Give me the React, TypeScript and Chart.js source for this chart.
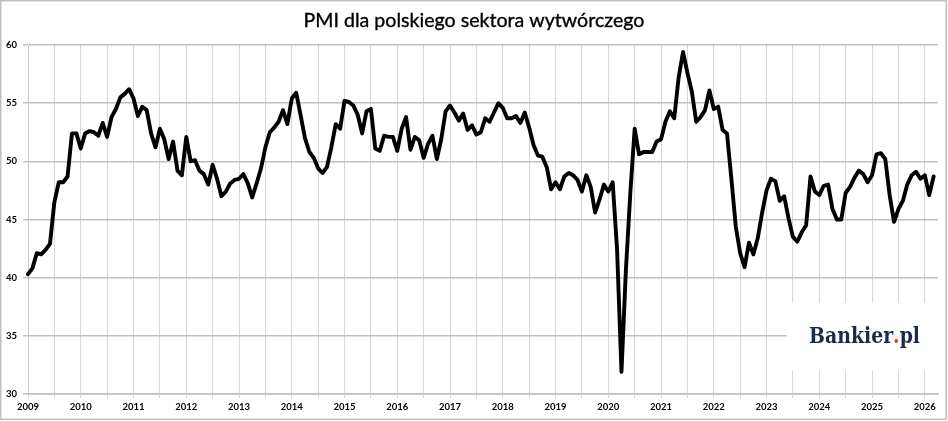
import React, { useEffect, useRef } from 'react';
import { Chart, registerables } from 'chart.js';

Chart.register(...registerables);

const chartTitle = 'PMI dla polskiego sektora wytwórczego';
const logoMain = 'Bankier';
const logoDot = '.';
const logoTail = 'pl';

const yearLabels = [
  '2009', '2010', '2011', '2012', '2013', '2014', '2015', '2016', '2017',
  '2018', '2019', '2020', '2021', '2022', '2023', '2024', '2025', '2026',
];

const yTicks = [30, 35, 40, 45, 50, 55, 60];

const pmi2009 = [40.3, 40.8, 42.1, 42.0, 42.4, 42.9, 46.5, 48.2, 48.2, 48.7, 52.4, 52.4];
const pmi2010 = [51.1, 52.4, 52.6, 52.5, 52.2, 53.3, 52.1, 53.8, 54.5, 55.5, 55.8, 56.2];
const pmi2011 = [55.4, 53.9, 54.7, 54.4, 52.4, 51.2, 52.8, 51.9, 50.2, 51.7, 49.2, 48.8];
const pmi2012 = [52.1, 50.0, 50.1, 49.2, 48.9, 48.0, 49.7, 48.5, 47.0, 47.4, 48.1, 48.4];
const pmi2013 = [48.5, 48.9, 48.1, 46.9, 48.1, 49.4, 51.2, 52.5, 52.9, 53.4, 54.4, 53.2];
const pmi2014 = [55.4, 55.9, 54.0, 52.0, 50.8, 50.3, 49.4, 49.0, 49.5, 51.2, 53.2, 52.8];
const pmi2015 = [55.2, 55.1, 54.8, 54.0, 52.4, 54.3, 54.5, 51.1, 50.9, 52.2, 52.1, 52.1];
const pmi2016 = [50.9, 52.8, 53.8, 51.0, 52.1, 51.8, 50.3, 51.5, 52.2, 50.2, 51.9, 54.3];
const pmi2017 = [54.8, 54.2, 53.5, 54.1, 52.7, 53.1, 52.3, 52.5, 53.7, 53.4, 54.2, 55.0];
const pmi2018 = [54.6, 53.7, 53.7, 53.9, 53.3, 54.2, 52.9, 51.4, 50.5, 50.4, 49.5, 47.6];
const pmi2019 = [48.2, 47.6, 48.7, 49.0, 48.8, 48.4, 47.4, 48.8, 47.8, 45.6, 46.7, 48.0];
const pmi2020 = [47.4, 48.2, 42.4, 31.9, 40.6, 47.2, 52.8, 50.6, 50.8, 50.8, 50.8, 51.7];
const pmi2021 = [51.9, 53.4, 54.3, 53.7, 57.2, 59.4, 57.6, 56.0, 53.4, 53.8, 54.4, 56.1];
const pmi2022 = [54.5, 54.7, 52.7, 52.4, 48.5, 44.4, 42.1, 40.9, 43.0, 42.0, 43.4, 45.6];
const pmi2023 = [47.5, 48.5, 48.3, 46.6, 47.0, 45.1, 43.5, 43.1, 43.9, 44.5, 48.7, 47.4];
const pmi2024 = [47.1, 47.9, 48.0, 45.9, 45.0, 45.0, 47.3, 47.8, 48.6, 49.2, 48.9, 48.2];
const pmi2025 = [48.8, 50.6, 50.7, 50.2, 47.1, 44.8, 45.9, 46.6, 48.0, 48.8, 49.1, 48.5];
const pmi2026 = [48.8, 47.1, 48.7];

const pmiValues = [
  ...pmi2009, ...pmi2010, ...pmi2011, ...pmi2012, ...pmi2013, ...pmi2014,
  ...pmi2015, ...pmi2016, ...pmi2017, ...pmi2018, ...pmi2019, ...pmi2020,
  ...pmi2021, ...pmi2022, ...pmi2023, ...pmi2024, ...pmi2025, ...pmi2026,
];

const monthLabels: string[] = [];
yearLabels.forEach((y) => {
  for (let m = 1; m <= 12; m++) monthLabels.push(`${y}-${String(m).padStart(2, '0')}`);
});
// one extra empty month at the right end of the axis
const axisLabels = monthLabels.slice(0, pmiValues.length + 1);

const decorPlugin = {
  id: 'decor',
  beforeDraw(chart: any) {
    const { ctx, width, height } = chart;
    ctx.save();
    ctx.fillStyle = '#ffffff';
    ctx.fillRect(0, 0, width, height);
    ctx.restore();
  },
  afterDraw(chart: any) {
    const { ctx, width, chartArea, scales } = chart;
    ctx.save();
    // logo box
    const yMid = scales.y.getPixelForValue(35);
    const boxRight = chartArea.right + 2;
    const boxLeft = chartArea.right - 151;
    ctx.fillStyle = '#ffffff';
    ctx.fillRect(boxLeft, yMid - 33, boxRight - boxLeft, 68);
    ctx.font = 'bold 22px "DejaVu Serif", serif';
    ctx.textBaseline = 'alphabetic';
    ctx.textAlign = 'left';
    const w1 = ctx.measureText(logoMain).width;
    const w2 = ctx.measureText(logoDot).width;
    const w3 = ctx.measureText(logoTail).width;
    const total = w1 + w2 + w3;
    const sx = 111 / total;
    ctx.translate(boxLeft + 22, yMid + 7);
    ctx.scale(sx, 1);
    ctx.fillStyle = '#1c2a4a';
    ctx.fillText(logoMain, 0, 0);
    ctx.fillStyle = '#e8441f';
    ctx.fillText(logoDot, w1, 0);
    ctx.fillStyle = '#1c2a4a';
    ctx.fillText(logoTail, w1 + w2, 0);
    ctx.restore();

    ctx.save();
    // title
    ctx.font = '19.6px Lato, "Open Sans", sans-serif';
    ctx.fillStyle = '#000000';
    ctx.strokeStyle = '#000000';
    ctx.lineWidth = 0.35;
    ctx.textAlign = 'center';
    ctx.textBaseline = 'alphabetic';
    ctx.fillText(chartTitle, width / 2, 26.5);
    ctx.strokeText(chartTitle, width / 2, 26.5);
    // outer frame
    ctx.strokeStyle = '#bfbfbf';
    ctx.lineWidth = 1.5;
    ctx.strokeRect(0.75, 0.75, 945.5, 418.5);
    ctx.restore();
  },
};

export default function App() {
  const canvasRef = useRef<HTMLCanvasElement | null>(null);

  useEffect(() => {
    if (!canvasRef.current) return;
    const tickFont = { family: 'Lato, "Open Sans", sans-serif', size: 9.5, weight: 'bold' as const };
    const chart = new Chart(canvasRef.current, {
      type: 'line',
      data: {
        labels: axisLabels,
        datasets: [
          {
            label: 'PMI',
            data: pmiValues,
            borderColor: '#000000',
            borderWidth: 3.9,
            pointRadius: 0,
            pointHoverRadius: 0,
            tension: 0,
            fill: false,
            borderJoinStyle: 'round',
            borderCapStyle: 'round',
          },
        ],
      },
      options: {
        responsive: false,
        animation: false,
        layout: { padding: { top: 45, right: 10, bottom: 0, left: 0 } },
        plugins: {
          legend: { display: false },
          title: { display: false },
          tooltip: { enabled: false },
        },
        scales: {
          x: {
            type: 'category',
            offset: false,
            grid: {
              color: '#d6d6d6',
              lineWidth: 1,
              drawTicks: true,
              tickLength: 4,
              offset: false,
            },
            border: { display: true, color: '#bfbfbf', width: 1.5 },
            ticks: {
              autoSkip: false,
              maxRotation: 0,
              minRotation: 0,
              color: '#000000',
              padding: 3,
              font: tickFont,
              callback: (value: any) => {
                const v = Number(value);
                return v % 12 === 0 ? yearLabels[v / 12] ?? '' : '';
              },
            },
            afterBuildTicks: (scale: any) => {
              scale.ticks = scale.ticks.filter((t: any) => t.value % 6 === 0);
            },
            afterFit: (scale: any) => {
              scale.height = 27;
            },
          },
          y: {
            min: yTicks[0],
            max: yTicks[yTicks.length - 1],
            grid: {
              color: '#c0c0c0',
              lineWidth: 1.5,
              drawTicks: true,
              tickLength: 5,
            },
            border: { display: true, color: '#c8c8c8', width: 1 },
            ticks: {
              stepSize: 5,
              color: '#000000',
              padding: 6,
              font: tickFont,
            },
            afterFit: (scale: any) => {
              scale.width = 28;
            },
          },
        },
      },
      plugins: [decorPlugin],
    });
    return () => chart.destroy();
  }, []);

  return (
    <div style={{ position: 'absolute', left: 0, top: 0, width: 948, height: 421, background: '#fff' }}>
      <canvas ref={canvasRef} width={948} height={421} style={{ width: 948, height: 421, display: 'block' }} />
    </div>
  );
}
